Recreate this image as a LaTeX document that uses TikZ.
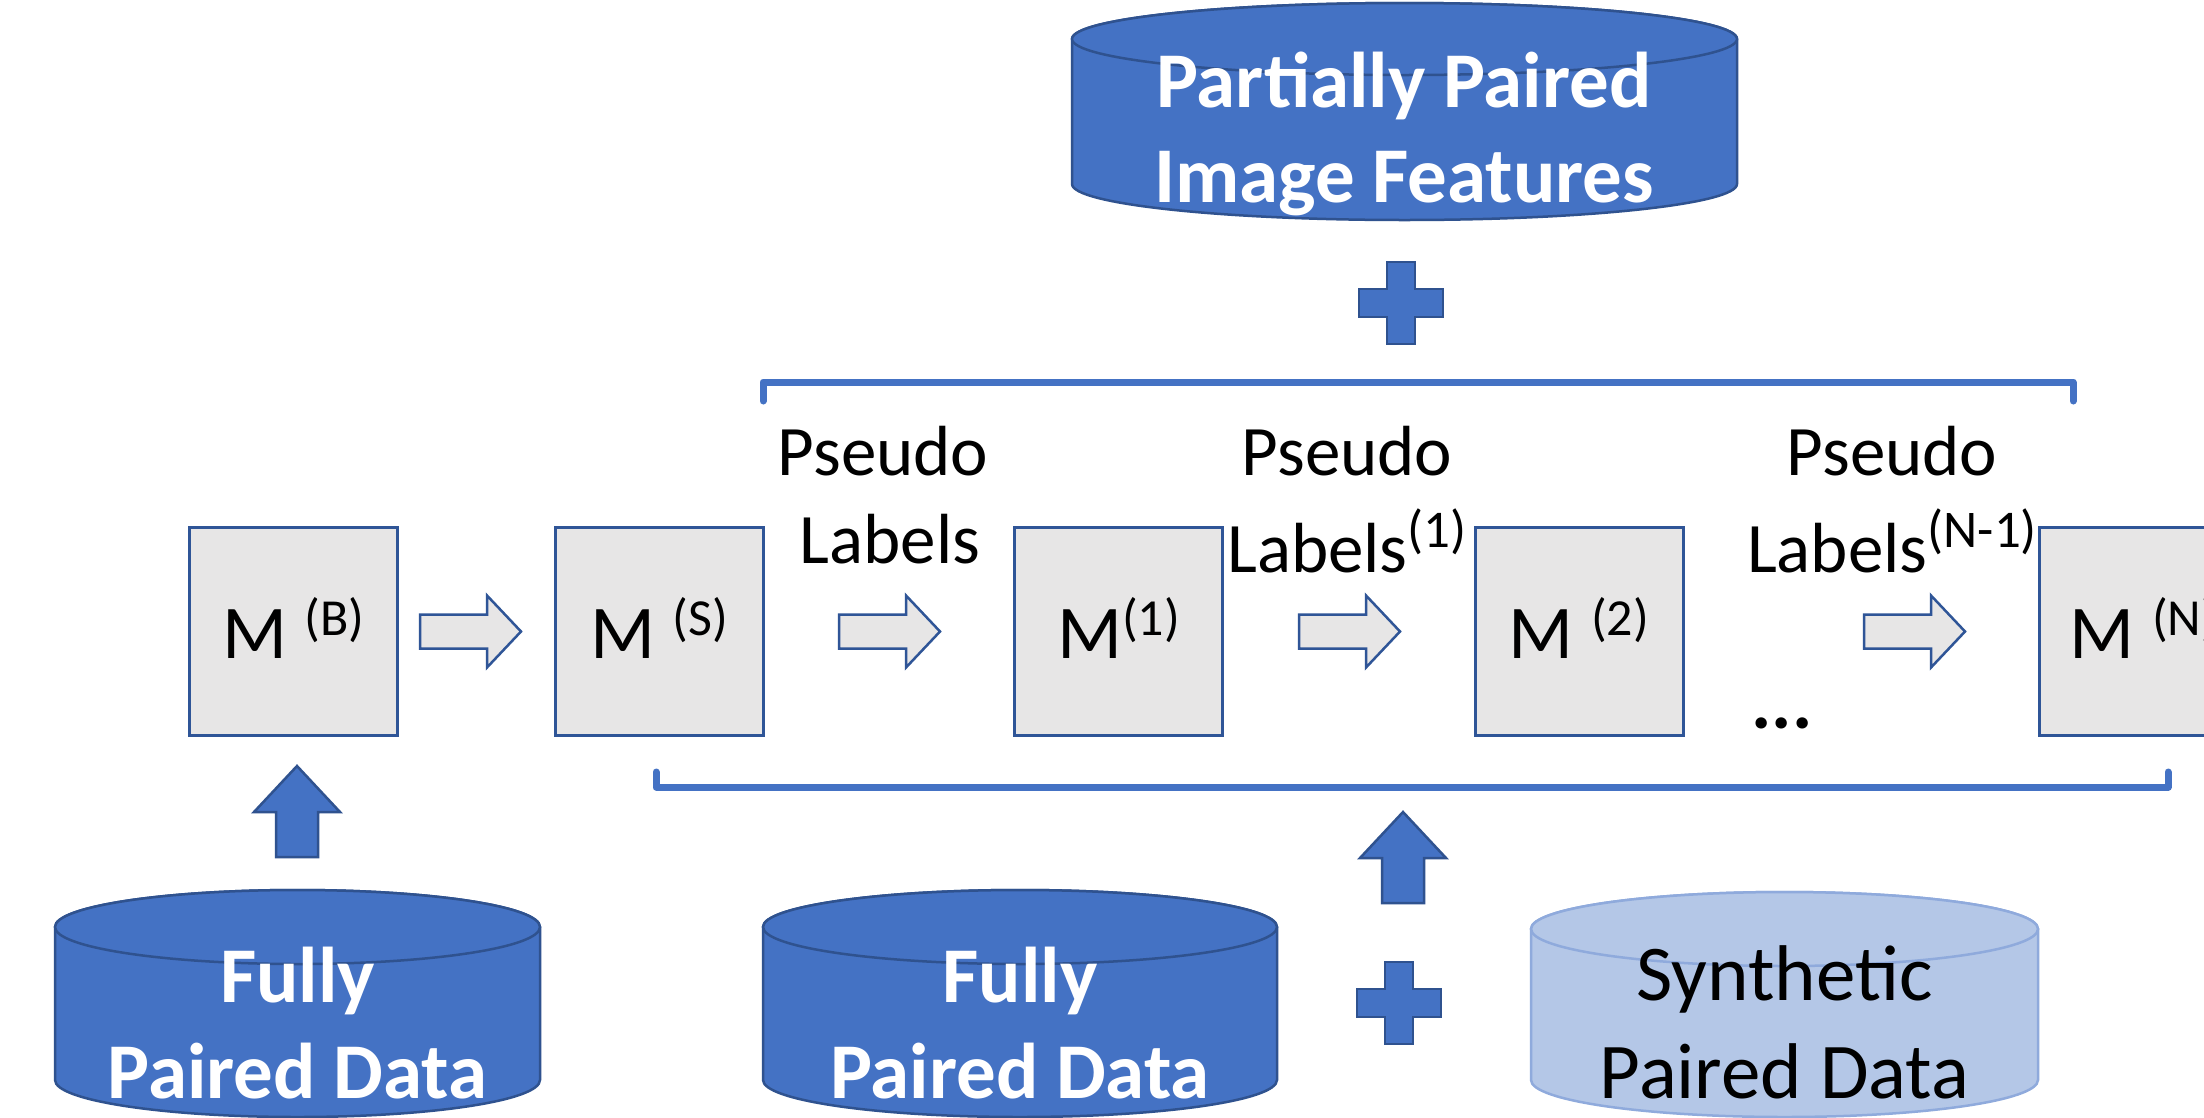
\documentclass[tikz,border=0pt]{standalone}
\usepackage{fontspec}
\setmainfont{Carlito}
\definecolor{boxfill}{HTML}{E7E6E6}
\definecolor{boxline}{HTML}{2F5597}
\definecolor{accent}{HTML}{4472C4}
\definecolor{cylline}{HTML}{2F528F}
\definecolor{synfill}{HTML}{B4C7E7}
\definecolor{synline}{HTML}{8FAADC}
\newcommand{\supx}[1]{\raisebox{23pt}{\fontsize{52}{52}\selectfont #1}}
\newcommand{\supl}[1]{\raisebox{25pt}{\fontsize{53}{53}\selectfont #1}}
\newcommand{\drawcyl}[6]{%
  \pgfmathsetmacro\cylrx{(#2-#1)/2}%
  \pgfmathsetmacro\cylcx{(#2+#1)/2}%
  \path[#6] (#1,-#3) -- (#1,-#4) arc[start angle=180,end angle=360,x radius=\cylrx,y radius=#5] -- (#2,-#3) arc[start angle=0,end angle=180,x radius=\cylrx,y radius=#5] -- cycle;
  \path[#6] (\cylcx,-#3) ellipse [x radius=\cylrx, y radius=#5];
}
\tikzset{
  mbox/.style={draw=boxline, line width=3pt, fill=boxfill, minimum width=208pt, minimum height=208pt, inner sep=0pt, text height=53pt, text depth=0pt, font=\fontsize{76}{90}\selectfont},
  lbl/.style={anchor=base, inner sep=0pt, font=\fontsize{71}{85}\selectfont},
  cyltxt/.style={anchor=base, inner sep=0pt, text=white, font=\fontsize{79}{95}\selectfont\bfseries},
  syntxt/.style={anchor=base, inner sep=0pt, text=black, font=\fontsize{79}{95}\selectfont},
  darkcyl/.style={fill=accent, draw=cylline, line width=2.5pt},
  lightcyl/.style={fill=synfill, draw=synline, line width=2.5pt},
  bracket/.style={draw=accent, line width=7pt, line cap=round, line join=round},
  bluefill/.style={fill=accent, draw=cylline, line width=2.5pt, line join=miter},
  rarrow/.pic={\draw[line width=2.5pt, draw=boxline, fill=boxfill, line join=miter] (0,17) -- (67,17) -- (67,36) -- (101,0) -- (67,-36) -- (67,-17) -- (0,-17) -- cycle;},
  uparrow/.pic={\draw[bluefill] (-21,0) -- (-21,45) -- (-43,45) -- (0,91) -- (43,45) -- (21,45) -- (21,0) -- cycle;},
  plussign/.pic={\draw[bluefill] (-14,41) -- (14,41) -- (14,14) -- (42,14) -- (42,-14) -- (14,-14) -- (14,-41) -- (-14,-41) -- (-14,-14) -- (-42,-14) -- (-42,14) -- (-14,14) -- cycle;}
}
\begin{document}
\begin{tikzpicture}[x=1pt,y=1pt]
\useasboundingbox (0,0) rectangle (2204,-1117);
\clip (0,0) rectangle (2204,-1117);
\fill[white] (0,0) rectangle (2204,-1117);

% top cylinder
\drawcyl{1072}{1737}{39}{184}{36}{darkcyl}
\node[cyltxt] (pp1) at (1404,-107) {Partially Paired};
\node[cyltxt] (pp2) at (1404,-202) {Image Features};

% plus (top)
\pic at (1401,-303) {plussign};

% top bracket
\draw[bracket] (763,-401) -- (763,-382) -- (2073,-382) -- (2073,-401);

% model boxes
\node[mbox] (mb) at (293.5,-631.5) {M \supx{(B)}};
\node[mbox] (ms) at (659.5,-631.5) {M \supx{(S)}};
\node[mbox] (m1) at (1118.5,-631.5) {M\supx{(1)}};
\node[mbox] (m2) at (1579,-631.5) {M \supx{(2)}};
\node[mbox] (mn) at (2143.5,-631.5) {M \supx{(N)}};

% block arrows
\pic at (420,-631.5) {rarrow};
\pic at (839,-631.5) {rarrow};
\pic at (1299,-631.5) {rarrow};
\pic at (1864,-631.5) {rarrow};

% labels
\node[lbl] (ps1) at (883,-475) {Pseudo};
\node[lbl] (lb1) at (890,-563) {Labels};
\node[lbl] (ps2) at (1347,-475) {Pseudo};
\node[lbl] (lb2) at (1347,-572) {Labels\supl{(1)}};
\node[lbl] (ps3) at (1892,-475) {Pseudo};
\node[lbl] (lb3) at (1892,-572) {Labels\supl{(N-1)}};
\node[lbl, font=\fontsize{76}{85}\selectfont\bfseries] (dots) at (1782,-728) {...};

% bottom bracket
\draw[bracket] (656,-772) -- (656,-787) -- (2168,-787) -- (2168,-772);

% up arrows
\pic at (297,-857) {uparrow};
\pic at (1403,-903) {uparrow};

% plus (bottom)
\pic at (1399,-1003) {plussign};

% bottom cylinders
\drawcyl{55}{540}{927}{1080}{37}{darkcyl}
\node[cyltxt] (fp1a) at (297.5,-1002) {Fully};
\node[cyltxt] (fp1b) at (297.5,-1098) {Paired Data};

\drawcyl{763}{1277}{927}{1080}{37}{darkcyl}
\node[cyltxt] (fp2a) at (1020,-1002) {Fully};
\node[cyltxt] (fp2b) at (1020,-1098) {Paired Data};

\drawcyl{1531}{2038}{929}{1080}{37}{lightcyl}
\node[syntxt] (spa) at (1784.5,-1000) {Synthetic};
\node[syntxt] (spb) at (1784.5,-1098) {Paired Data};
\end{tikzpicture}
\end{document}
